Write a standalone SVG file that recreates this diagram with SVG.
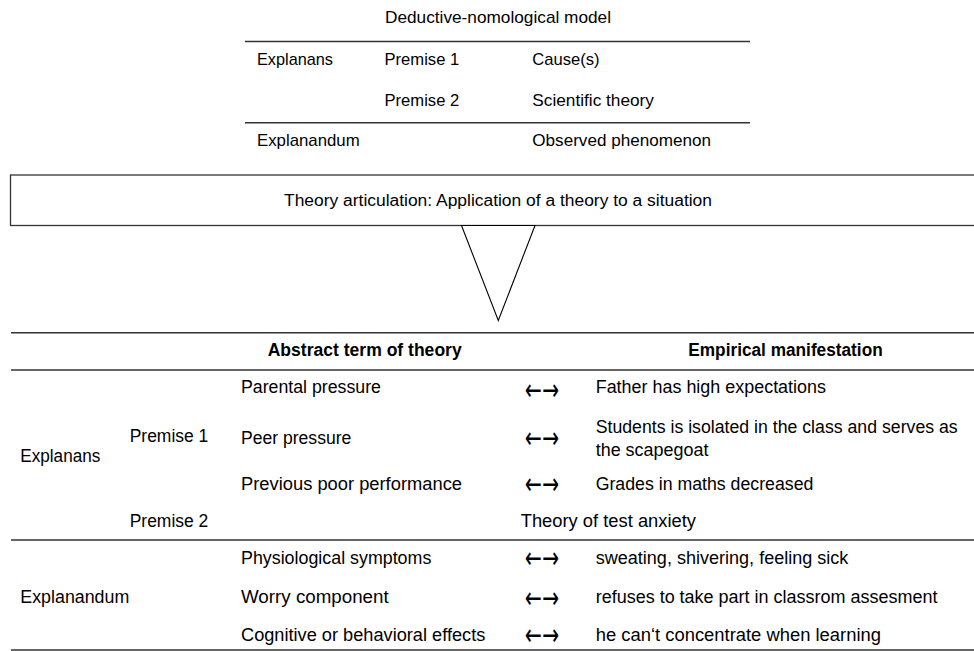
<svg xmlns="http://www.w3.org/2000/svg" width="974" height="651" viewBox="0 0 974 651">
<style>
text{font-family:"Liberation Sans",Arial,sans-serif;fill:#000}
.t{font-size:16.6px}
.b{font-size:17.5px}
.h{font-size:17.5px;font-weight:bold}
.ar{font-family:"DejaVu Sans",sans-serif;font-size:30px}
.rule{stroke:#333;stroke-width:1.4;fill:none}
</style>
<rect width="974" height="651" fill="#fff"/>
<g id="top-table">
<text class="t" x="385" y="23" textLength="226" lengthAdjust="spacingAndGlyphs">Deductive-nomological model</text>
<line class="rule" x1="245" y1="41.5" x2="750" y2="41.5"/>
<text class="t" x="257" y="65" textLength="76" lengthAdjust="spacingAndGlyphs">Explanans</text>
<text class="t" x="384.5" y="65" textLength="74.7" lengthAdjust="spacingAndGlyphs">Premise 1</text>
<text class="t" x="532.3" y="65">Cause(s)</text>
<text class="t" x="384.5" y="106" textLength="74.7" lengthAdjust="spacingAndGlyphs">Premise 2</text>
<text class="t" x="532.3" y="106" textLength="121.7" lengthAdjust="spacingAndGlyphs">Scientific theory</text>
<line class="rule" x1="245" y1="122.7" x2="750" y2="122.7"/>
<text class="t" x="257" y="146" textLength="102.7" lengthAdjust="spacingAndGlyphs">Explanandum</text>
<text class="t" x="532.3" y="146" textLength="178.7" lengthAdjust="spacingAndGlyphs">Observed phenomenon</text>
</g>
<g id="articulation-box">
<rect x="10.5" y="175" width="975" height="50.5" fill="#fff" stroke="#333" stroke-width="1.3"/>
<text x="284" y="206" font-size="16" textLength="428" lengthAdjust="spacingAndGlyphs">Theory articulation: Application of a theory to a situation</text>
</g>
<g id="connectors">
<polygon points="461.5,225.5 535,225.5 498.3,320.5" fill="#fff" stroke="#000" stroke-width="1.1" stroke-linejoin="miter"/>
</g>
<g id="bottom-table">
<line class="rule" x1="11" y1="332.7" x2="974" y2="332.7"/>
<text class="h" x="267.7" y="356" textLength="194" lengthAdjust="spacingAndGlyphs">Abstract term of theory</text>
<text class="h" x="688.3" y="356" textLength="194.4" lengthAdjust="spacingAndGlyphs">Empirical manifestation</text>
<line class="rule" x1="11" y1="370" x2="974" y2="370"/>
<text class="b" x="241" y="392.7" textLength="140" lengthAdjust="spacingAndGlyphs">Parental pressure</text>
<text class="ar" x="525" y="400" textLength="34" lengthAdjust="spacingAndGlyphs">←→</text>
<text class="b" x="595.7" y="392.7" textLength="230.3" lengthAdjust="spacingAndGlyphs">Father has high expectations</text>
<text class="b" x="129.7" y="442.3" textLength="78.6" lengthAdjust="spacingAndGlyphs">Premise 1</text>
<text class="b" x="20.3" y="462.3" textLength="80" lengthAdjust="spacingAndGlyphs">Explanans</text>
<text class="b" x="241" y="444.3" textLength="110.3" lengthAdjust="spacingAndGlyphs">Peer pressure</text>
<text class="ar" x="525" y="448" textLength="34" lengthAdjust="spacingAndGlyphs">←→</text>
<text class="b" x="595.7" y="432.7" textLength="362" lengthAdjust="spacingAndGlyphs">Students is isolated in the class and serves as</text>
<text class="b" x="595.7" y="456" textLength="112.7" lengthAdjust="spacingAndGlyphs">the scapegoat</text>
<text class="b" x="241" y="490" textLength="221" lengthAdjust="spacingAndGlyphs">Previous poor performance</text>
<text class="ar" x="525" y="493.5" textLength="34" lengthAdjust="spacingAndGlyphs">←→</text>
<text class="b" x="595.7" y="490" textLength="217.7" lengthAdjust="spacingAndGlyphs">Grades in maths decreased</text>
<text class="b" x="129.7" y="526.7" textLength="78.6" lengthAdjust="spacingAndGlyphs">Premise 2</text>
<text class="b" x="520.7" y="526.7" textLength="175.3" lengthAdjust="spacingAndGlyphs">Theory of test anxiety</text>
<line class="rule" x1="11" y1="540" x2="974" y2="540"/>
<text class="b" x="241" y="564.3" textLength="190.3" lengthAdjust="spacingAndGlyphs">Physiological symptoms</text>
<text class="ar" x="525" y="568" textLength="34" lengthAdjust="spacingAndGlyphs">←→</text>
<text class="b" x="595.7" y="564.3" textLength="252.7" lengthAdjust="spacingAndGlyphs">sweating, shivering, feeling sick</text>
<text class="b" x="20.3" y="602.7" textLength="109" lengthAdjust="spacingAndGlyphs">Explanandum</text>
<text class="b" x="241" y="603.3" textLength="147.7" lengthAdjust="spacingAndGlyphs">Worry component</text>
<text class="ar" x="525" y="607.5" textLength="34" lengthAdjust="spacingAndGlyphs">←→</text>
<text class="b" x="595.7" y="603.3" textLength="341.7" lengthAdjust="spacingAndGlyphs">refuses to take part in classrom assesment</text>
<text class="b" x="241" y="640.7" textLength="244.3" lengthAdjust="spacingAndGlyphs">Cognitive or behavioral effects</text>
<text class="ar" x="525" y="644.5" textLength="34" lengthAdjust="spacingAndGlyphs">←→</text>
<text class="b" x="595.7" y="640.7" textLength="285.3" lengthAdjust="spacingAndGlyphs">he can‘t concentrate when learning</text>
<line class="rule" x1="11" y1="650" x2="974" y2="650"/>
</g>
</svg>
